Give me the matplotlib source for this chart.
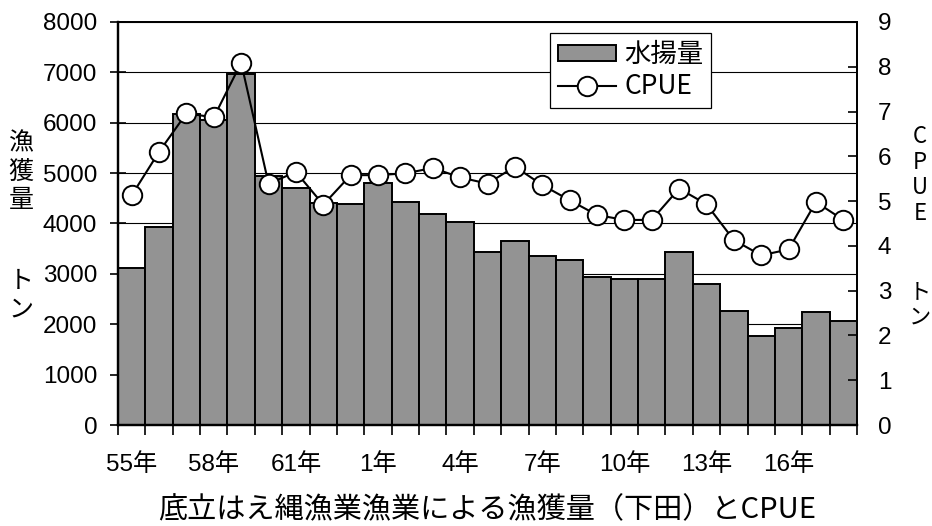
import numpy as np
import matplotlib
matplotlib.use("Agg")
import matplotlib.pyplot as plt

plt.rcParams['font.family'] = ['Liberation Sans', 'Noto Sans CJK JP', 'DejaVu Sans']

years = ['55', '56', '57', '58', '59', '60', '61', '62', '63',
         '1', '2', '3', '4', '5', '6', '7', '8', '9', '10',
         '11', '12', '13', '14', '15', '16', '17', '18']
catch = [3110, 3940, 6170, 6050, 6960, 4940, 4700, 4410, 4380,
         4810, 4420, 4190, 4020, 3430, 3660, 3350, 3270, 2940, 2900,
         2900, 3430, 2790, 2270, 1760, 1920, 2240, 2070]
cpue = [5.13, 6.10, 6.96, 6.87, 8.09, 5.39, 5.65, 4.92, 5.58,
        5.58, 5.62, 5.74, 5.53, 5.39, 5.77, 5.36, 5.02, 4.69, 4.58,
        4.58, 5.28, 4.93, 4.13, 3.79, 3.92, 4.98, 4.58]
label_every = 3

W, H = 932, 526
fig = plt.figure(figsize=(W / 100, H / 100), dpi=100)
ax = fig.add_axes([118 / W, 1 - 425 / H, (857 - 118) / W, (425 - 22) / H])
ax2 = ax.twinx()

x = np.arange(len(years))
bars = ax.bar(x, catch, width=1.0, color='#939393', edgecolor='black',
              linewidth=1.4, zorder=2, label='水揚量')
ax.set_xlim(-0.5, len(years) - 0.5)
ax.set_ylim(0, 8000)
ax.set_yticks(np.arange(0, 8001, 1000))
ax.yaxis.grid(True, color='black', linewidth=0.8)
ax.set_axisbelow(True)

ax.set_xticks(x[::label_every])
ax.set_xticklabels([y + '年' for y in years[::label_every]])
ax.set_xticks(np.arange(-0.5, len(years), 1.0), minor=True)
ax.tick_params(axis='x', which='major', length=0, pad=20, labelsize=17.5)
ax.tick_params(axis='x', which='minor', length=7, width=1.2, direction='out')
ax.tick_params(axis='y', direction='inout', length=12, width=1.2, pad=9,
               labelsize=17.5)

line, = ax2.plot(x, cpue, color='black', linewidth=1.5, marker='o',
                 markersize=14, markerfacecolor='white',
                 markeredgecolor='black', markeredgewidth=1.4,
                 zorder=3, label='CPUE')
ax2.set_ylim(0, 9)
ax2.set_yticks(np.arange(0, 10, 1))
ax2.tick_params(axis='y', direction='in', length=6.5, width=1.2, pad=15,
                labelsize=17.5)

for a in (ax, ax2):
    for s in a.spines.values():
        s.set_linewidth(1.3)
    a.spines['left'].set_linewidth(1.6)
    a.spines['bottom'].set_linewidth(1.6)

leg = ax2.legend([bars, line], ['水揚量', 'CPUE'], loc='upper left',
                 bbox_to_anchor=(0.585, 0.972), frameon=True, fancybox=False,
                 edgecolor='black', framealpha=1, borderaxespad=0,
                 handlelength=2.2, handleheight=0.6, handletextpad=0.3,
                 labelspacing=0.2, borderpad=0.3,
                 prop={'family': ['Noto Sans CJK JP'], 'size': 19})
leg.get_frame().set_linewidth(0.9)

cjk = ['Noto Sans CJK JP', 'DejaVu Sans']
fig.text(21 / W, 1 - 172 / H, '漁\n獲\n量', ha='center', va='center',
         fontsize=18, family=cjk, linespacing=1.12)
fig.text(21 / W, 1 - 295 / H, 'ト\nン', ha='center', va='center',
         fontsize=18, family=cjk, linespacing=1.12)
fig.text(920 / W, 1 - 175 / H, 'C\nP\nU\nE', ha='center', va='center',
         fontsize=16, family=cjk, linespacing=1.15)
fig.text(920 / W, 1 - 304 / H, 'ト\nン', ha='center', va='center',
         fontsize=16, family=cjk, linespacing=1.15)

fig.text(487 / W, 1 - 510 / H, '底立はえ縄漁業漁業による漁獲量（下田）とCPUE',
         ha='center', va='center', fontsize=21, family=cjk)

fig.savefig('out.png', dpi=100)
